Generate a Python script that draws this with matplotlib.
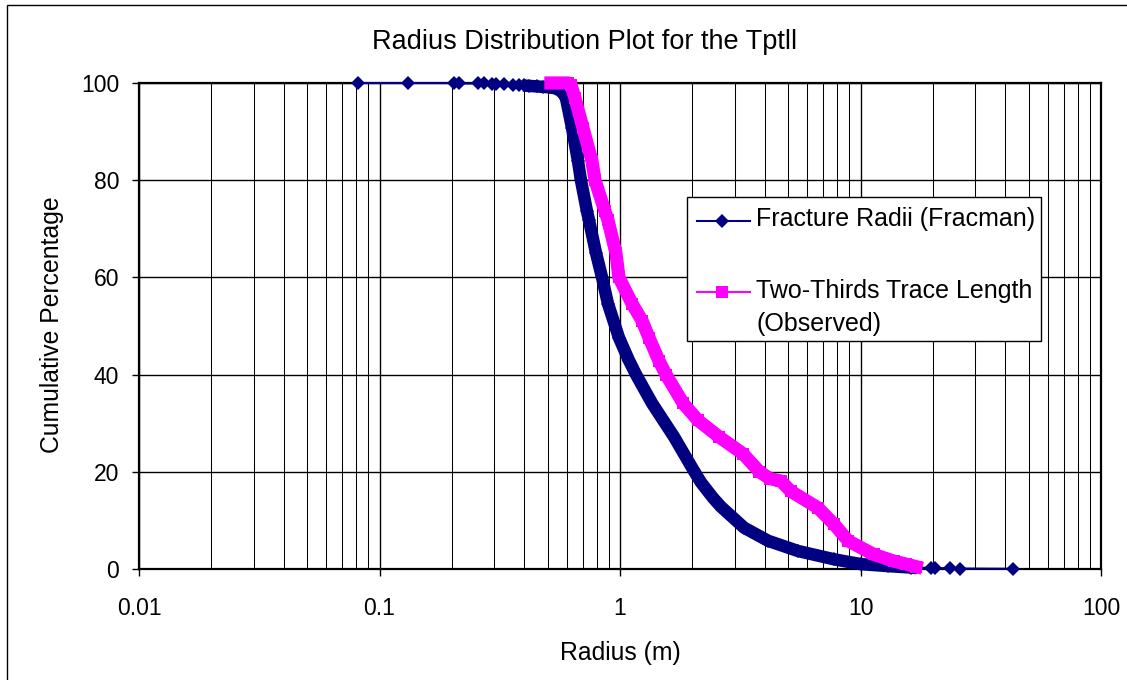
import matplotlib
matplotlib.use('Agg')
import matplotlib.pyplot as plt
from matplotlib.ticker import FixedLocator, FixedFormatter, LogLocator, NullFormatter
from matplotlib.lines import Line2D
from matplotlib.patches import Rectangle

plt.rcParams['font.family'] = ['Liberation Sans', 'DejaVu Sans']

# Fracture Radii (Fracman): sparse low tail, dense body, sparse high tail
blue_lo_r = [0.0816, 0.132, 0.2035, 0.2146, 0.256, 0.273, 0.293, 0.305, 0.330, 0.358, 0.381, 0.400]
blue_lo_pct = [100, 100, 100, 99.9, 99.9, 99.9, 99.8, 99.8, 99.7, 99.6, 99.6, 99.5]
blue_r = [0.42, 0.45, 0.48, 0.51, 0.54, 0.56, 0.58, 0.596, 0.632, 0.669, 0.688, 0.729, 0.743,
          0.795, 0.842, 0.891, 0.990, 1.09, 1.166, 1.359, 1.677, 2.012, 2.172, 2.44, 2.63,
          3.28, 4.13, 5.50, 7.76, 10.05, 13.0, 16.2]
blue_pct = [99.4, 99.3, 99.2, 99.1, 98.9, 98.5, 97.9, 96.9, 90.7, 83.9, 80.0, 73.6, 71.8,
            65.0, 60.0, 54.6, 47.6, 42.9, 40.0, 34.1, 27.2, 20.5, 17.8, 14.6, 12.8,
            8.5, 5.8, 3.7, 2.0, 1.0, 0.6, 0.3]
blue_hi_r = [19.6, 20.4, 23.6, 25.9, 43.1]
blue_hi_pct = [0.25, 0.2, 0.15, 0.1, 0.05]

# Two-Thirds Trace Length (Observed)
pink_r = [0.516, 0.545, 0.579, 0.61, 0.626, 0.650, 0.702, 0.765, 0.787, 0.866, 0.891, 0.962,
          0.990, 1.122, 1.235, 1.32, 1.45, 1.553, 1.83, 2.11, 2.58, 3.25, 3.8, 4.2, 4.67,
          5.13, 6.65, 7.77, 8.88, 11.35, 13.8, 15.5, 17.0]
pink_pct = [100, 100, 100, 100, 99.5, 96.9, 90.7, 83.9, 80.0, 73.6, 71.8, 65.0,
            60.0, 54.6, 51.1, 47.6, 42.9, 40.0, 34.1, 30.6, 27.2, 23.7, 20.0, 18.6, 18.1,
            16.0, 12.6, 9.2, 5.8, 3.0, 1.6, 1.0, 0.5]

xticks = [0.01, 0.1, 1, 10, 100]
xtick_labels = ['0.01', '0.1', '1', '10', '100']
yticks = [0, 20, 40, 60, 80, 100]

NAVY = '#000080'
MAGENTA = '#FF00FF'
W, H = 1127, 680


def fx(px):
    return px / W


def fy(py):
    return 1 - py / H


fig = plt.figure(figsize=(W / 100, H / 100), dpi=100)
ax = fig.add_axes([fx(139), fy(569), (1101 - 139) / W, (569 - 83) / H])

# blue series: thick band for the dense part, then the thin line with diamonds
ax.plot(blue_r, blue_pct, color=NAVY, lw=9, zorder=3, clip_on=False)
ax.plot(blue_lo_r + blue_r + blue_hi_r, blue_lo_pct + blue_pct + blue_hi_pct, color=NAVY,
        lw=1.5, marker='D', ms=7, mew=0, zorder=3.1, clip_on=False)
# pink series on top
ax.plot(pink_r, pink_pct, color=MAGENTA, lw=9.5, zorder=4, clip_on=False)
ax.plot(pink_r, pink_pct, color=MAGENTA, lw=1.5, marker='s', ms=8.5, mew=0, zorder=4.1, clip_on=False)

ax.set_xscale('log')
ax.set_xlim(0.01, 100)
ax.set_ylim(0, 100)
ax.xaxis.set_major_locator(FixedLocator(xticks))
ax.xaxis.set_major_formatter(FixedFormatter(xtick_labels))
ax.xaxis.set_minor_locator(LogLocator(base=10, subs=range(2, 10)))
ax.xaxis.set_minor_formatter(NullFormatter())
ax.set_yticks(yticks)

ax.grid(True, which='major', color='black', lw=1.0)
ax.grid(True, which='minor', axis='x', color='black', lw=0.75)
ax.set_axisbelow(True)
for s in ax.spines.values():
    s.set_linewidth(1.6)
    s.set_color('black')

ax.tick_params(axis='x', which='major', direction='out', length=5.3, width=1, labelsize=16.5, pad=15)
ax.tick_params(axis='x', which='minor', length=0)
ax.tick_params(axis='y', direction='out', length=5.3, width=1, labelsize=16.5, pad=9)

ax.set_xlabel('Radius (m)', fontsize=17.8)
ax.xaxis.label.set_verticalalignment('center')
ax.xaxis.set_label_coords(0.5, (569 - 653) / (569 - 83))
ax.set_ylabel('Cumulative Percentage', fontsize=17.8)
ax.yaxis.label.set_verticalalignment('center')
ax.yaxis.set_label_coords((52 - 139) / (1101 - 139), 0.503)

fig.text(fx(585), fy(42), 'Radius Distribution Plot for the Tptll', ha='center', va='center', fontsize=19.5)

# legend box drawn by hand so the marker sits on the first line of a two-line label
fig.patches.append(Rectangle((fx(687), fy(341)), (1041 - 687) / W, (341 - 197) / H,
                             transform=fig.transFigure, facecolor='white', edgecolor='black',
                             lw=1, zorder=5))
fig.lines.append(Line2D([fx(697), fx(750)], [fy(221), fy(221)], transform=fig.transFigure,
                        color=NAVY, lw=1.5, zorder=6))
fig.lines.append(Line2D([fx(722)], [fy(221)], transform=fig.transFigure, color=NAVY,
                        marker='D', ms=7, mew=0, zorder=6))
fig.lines.append(Line2D([fx(697), fx(750)], [fy(292), fy(292)], transform=fig.transFigure,
                        color=MAGENTA, lw=1.5, zorder=6))
fig.lines.append(Line2D([fx(722)], [fy(292)], transform=fig.transFigure, color=MAGENTA,
                        marker='s', ms=8, mew=0, zorder=6))
fig.text(fx(756), fy(226), 'Fracture Radii (Fracman)', fontsize=18, va='baseline', zorder=7)
fig.text(fx(756), fy(298), 'Two-Thirds Trace Length', fontsize=18, va='baseline', zorder=7)
fig.text(fx(756), fy(331), '(Observed)', fontsize=18, va='baseline', zorder=7)

# outer chart border
fig.patches.append(Rectangle((fx(7), fy(690)), (1140 - 7) / W, (690 - 5) / H,
                             transform=fig.transFigure, fill=False, edgecolor='black', lw=1, zorder=1))

fig.savefig('out.png', dpi=100)
